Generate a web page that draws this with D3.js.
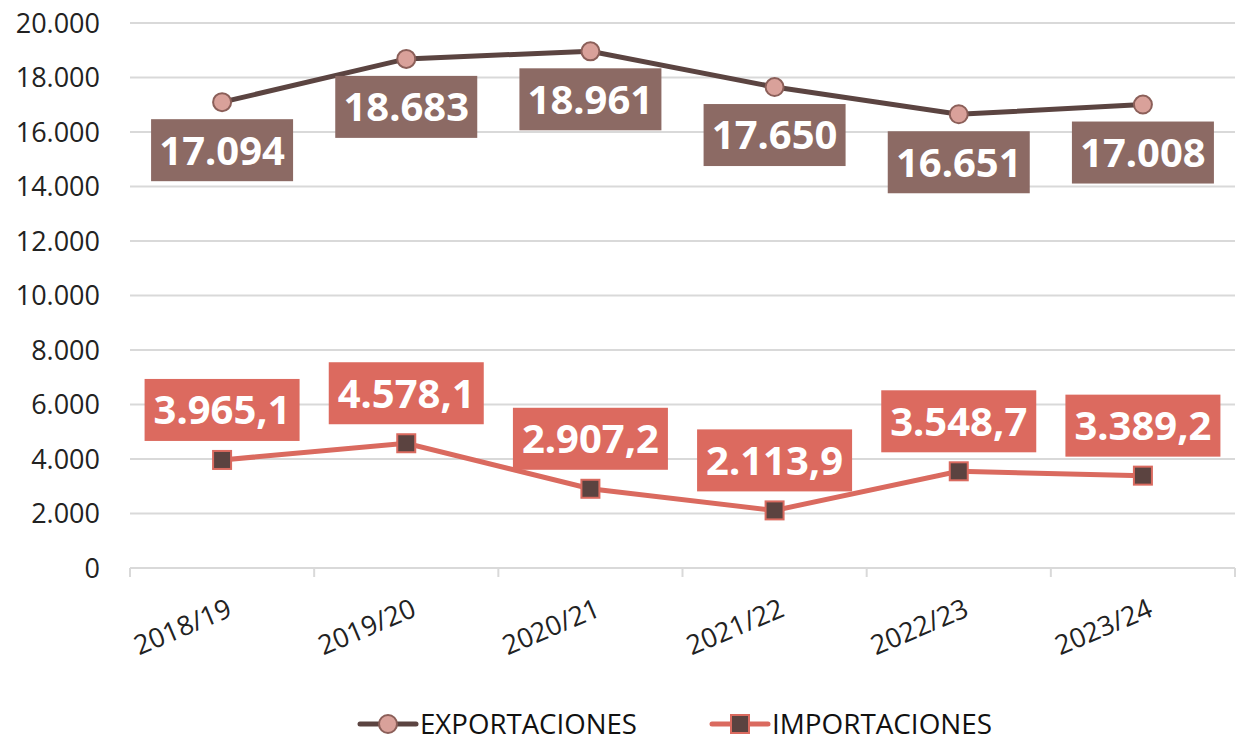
<!DOCTYPE html>
<html>
<head>
<meta charset="utf-8">
<script src="https://cdn.jsdelivr.net/npm/d3@7"></script>
<style>
  body { margin: 0; background: #fff; }
  svg { display: block; }
</style>
</head>
<body>
<script>
const width = 1242;
const height = 742;

const years = ["2018/19", "2019/20", "2020/21", "2021/22", "2022/23", "2023/24"];
const exportaciones = [17094, 18683, 18961, 17650, 16651, 17008];
const importaciones = [3965.1, 4578.1, 2907.2, 2113.9, 3548.7, 3389.2];
const yTicks = [0, 2000, 4000, 6000, 8000, 10000, 12000, 14000, 16000, 18000, 20000];

const margin = {top: 23, right: 7, bottom: 174, left: 130};

const x = d3.scaleBand()
  .domain(years)
  .range([margin.left, width - margin.right]);

const y = d3.scaleLinear()
  .domain([0, 20000])
  .range([height - margin.bottom, margin.top]);

const cx = (d) => x(d) + x.bandwidth() / 2;

const fmtInt = (v) => d3.format(",")(v).replace(/,/g, ".");
const fmtDec = (v) => {
  const s = d3.format(",.1f")(v);
  return s.replace(/,/g, "#").replace(".", ",").replace(/#/g, ".");
};

const svg = d3.select("body")
  .append("svg")
  .attr("width", width)
  .attr("height", height);

// gridlines
svg.append("g")
  .selectAll("line")
  .data(yTicks.filter((d) => d > 0))
  .enter()
  .append("line")
  .attr("x1", margin.left)
  .attr("x2", width - margin.right)
  .attr("y1", (d) => y(d))
  .attr("y2", (d) => y(d))
  .attr("stroke", "#d9d9d9")
  .attr("stroke-width", 2);

// y labels
svg.append("g")
  .selectAll("text")
  .data(yTicks)
  .enter()
  .append("text")
  .attr("x", 100)
  .attr("y", (d) => y(d))
  .attr("dy", "0.36em")
  .attr("text-anchor", "end")
  .attr("font-family", "Open Sans, Noto Sans, sans-serif")
  .attr("font-size", 27)
  .attr("fill", "#222")
  .text((d) => fmtInt(d));

// x axis baseline and ticks at band edges
const y0 = y(0);
svg.append("line")
  .attr("x1", margin.left)
  .attr("x2", width - margin.right)
  .attr("y1", y0)
  .attr("y2", y0)
  .attr("stroke", "#d9d9d9")
  .attr("stroke-width", 2);

const edges = years.map((d) => x(d)).concat([x(years[years.length - 1]) + x.bandwidth()]);
svg.append("g")
  .selectAll("line")
  .data(edges)
  .enter()
  .append("line")
  .attr("x1", (d) => d)
  .attr("x2", (d) => d)
  .attr("y1", y0)
  .attr("y2", y0 + 9)
  .attr("stroke", "#d9d9d9")
  .attr("stroke-width", 2);

// x labels
svg.append("g")
  .selectAll("text")
  .data(years)
  .enter()
  .append("text")
  .attr("transform", (d) => "translate(" + (cx(d) + 4) + "," + (y0 + 30) + ") rotate(-23)")
  .attr("text-anchor", "end")
  .attr("dy", "0.7em")
  .attr("font-family", "Open Sans, Noto Sans, sans-serif")
  .attr("font-size", 27)
  .attr("fill", "#222")
  .text((d) => d);

const line = d3.line()
  .x((d, i) => cx(years[i]))
  .y((d) => y(d));

// exportaciones
svg.append("path")
  .datum(exportaciones)
  .attr("d", line)
  .attr("fill", "none")
  .attr("stroke", "#5b4441")
  .attr("stroke-width", 5);

svg.append("g")
  .selectAll("circle")
  .data(exportaciones)
  .enter()
  .append("circle")
  .attr("cx", (d, i) => cx(years[i]))
  .attr("cy", (d) => y(d))
  .attr("r", 9)
  .attr("fill", "#d9a19a")
  .attr("stroke", "#8b5f59")
  .attr("stroke-width", 2);

// importaciones
svg.append("path")
  .datum(importaciones)
  .attr("d", line)
  .attr("fill", "none")
  .attr("stroke", "#da6a5f")
  .attr("stroke-width", 5);

svg.append("g")
  .selectAll("rect")
  .data(importaciones)
  .enter()
  .append("rect")
  .attr("x", (d, i) => cx(years[i]) - 9)
  .attr("y", (d) => y(d) - 9)
  .attr("width", 18)
  .attr("height", 18)
  .attr("fill", "#5b4340")
  .attr("stroke", "#da6a5f")
  .attr("stroke-width", 2);

// data labels
function labels(data, fmt, color, offset, boxW) {
  const g = svg.append("g")
    .selectAll("g")
    .data(data)
    .enter()
    .append("g")
    .attr("transform", (d, i) => "translate(" + cx(years[i]) + "," + (y(d) + offset) + ")");
  g.append("rect")
    .attr("x", -boxW / 2)
    .attr("y", -31)
    .attr("width", boxW)
    .attr("height", 62)
    .attr("fill", color);
  g.append("text")
    .attr("text-anchor", "middle")
    .attr("dy", "0.36em")
    .attr("font-family", "Noto Sans, sans-serif")
    .attr("font-weight", "bold")
    .attr("font-size", 40)
    .attr("fill", "#fff")
    .text((d) => fmt(d));
}

labels(exportaciones, fmtInt, "#8c6a64", 48, 142);
labels(importaciones, fmtDec, "#dc6a5f", -50, 155);

// legend
const legendData = [
  {name: "EXPORTACIONES", x: 360, line: "#5b4441", shape: "circle", len: 217},
  {name: "IMPORTACIONES", x: 712, line: "#da6a5f", shape: "square", len: 220}
];
const legend = svg.append("g")
  .selectAll("g")
  .data(legendData)
  .enter()
  .append("g")
  .attr("transform", (d) => "translate(" + d.x + ",724)");

legend.append("line")
  .attr("x1", 0)
  .attr("x2", 56)
  .attr("stroke", (d) => d.line)
  .attr("stroke-width", 5)
  .attr("stroke-linecap", "round");

legend.filter((d) => d.shape === "circle")
  .append("circle")
  .attr("cx", 28)
  .attr("r", 9)
  .attr("fill", "#d9a19a")
  .attr("stroke", "#8b5f59")
  .attr("stroke-width", 2);

legend.filter((d) => d.shape === "square")
  .append("rect")
  .attr("x", 19)
  .attr("y", -9)
  .attr("width", 18)
  .attr("height", 18)
  .attr("fill", "#5b4340")
  .attr("stroke", "#da6a5f")
  .attr("stroke-width", 2);

legend.append("text")
  .attr("x", 60)
  .attr("dy", "0.36em")
  .attr("font-family", "Open Sans, Noto Sans, sans-serif")
  .attr("font-size", 27)
  .attr("fill", "#111")
  .attr("textLength", (d) => d.len)
  .attr("lengthAdjust", "spacingAndGlyphs")
  .text((d) => d.name);
</script>
</body>
</html>
